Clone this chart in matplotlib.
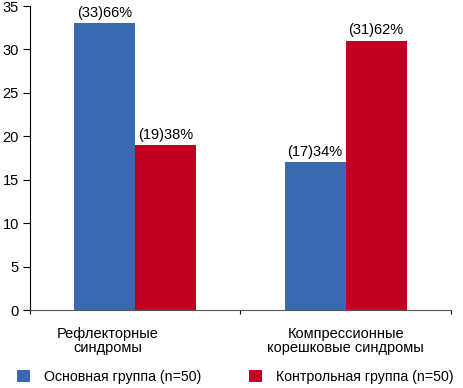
import numpy as np
import matplotlib
matplotlib.use("Agg")
import matplotlib.pyplot as plt

plt.rcParams['font.family'] = ['Liberation Sans Narrow', 'Liberation Sans', 'DejaVu Sans']

categories = ["Рефлекторные\nсиндромы", "Компрессионные\nкорешковые синдромы"]
series_names = ["Основная группа (n=50)", "Контрольная группа (n=50)"]
main_vals = [33, 17]
ctrl_vals = [19, 31]
main_labels = ["(33)66%", "(17)34%"]
ctrl_labels = ["(19)38%", "(31)62%"]
colors = ["#3b69b0", "#c00022"]

fig = plt.figure(figsize=(4.64, 3.88), dpi=100)
ax = fig.add_axes([0.0647, 0.201, 0.907, 0.7835])

x = np.arange(len(categories))
w = 0.29
b1 = ax.bar(x - w / 2, main_vals, w, color=colors[0], label=series_names[0])
b2 = ax.bar(x + w / 2, ctrl_vals, w, color=colors[1], label=series_names[1])
for bars, labs in [(b1, main_labels), (b2, ctrl_labels)]:
    for r, t in zip(bars, labs):
        ax.text(r.get_x() + r.get_width() / 2, r.get_height() + 0.4, t,
                ha="center", va="bottom", fontsize=10.5)

ax.set_xlim(-0.5, 1.5)
ax.set_ylim(0, 35)
ax.set_yticks(range(0, 36, 5))
ax.set_xticks([-0.5, 0.5, 1.5])
ax.set_xticklabels([])
ax.set_xticks([-0.13, 1.0], minor=True)
ax.set_xticklabels(categories, minor=True, fontsize=10.5, linespacing=1.0)
ax.tick_params(axis="x", which="minor", length=0, pad=12)
ax.tick_params(axis="x", which="major", length=3, direction="out")
ax.tick_params(axis="y", length=5, labelsize=10.5, pad=3)
ax.spines["top"].set_visible(False)
ax.spines["right"].set_visible(False)
ax.spines["bottom"].set_color("#555555")

fig.legend(loc="center left", ncol=2, frameon=False, fontsize=10.2,
           bbox_to_anchor=(17 / 464, 11 / 388), borderpad=0, borderaxespad=0,
           handlelength=0.9, handleheight=0.9,
           columnspacing=3.4, handletextpad=1.0)

fig.savefig("out.png", dpi=100)
